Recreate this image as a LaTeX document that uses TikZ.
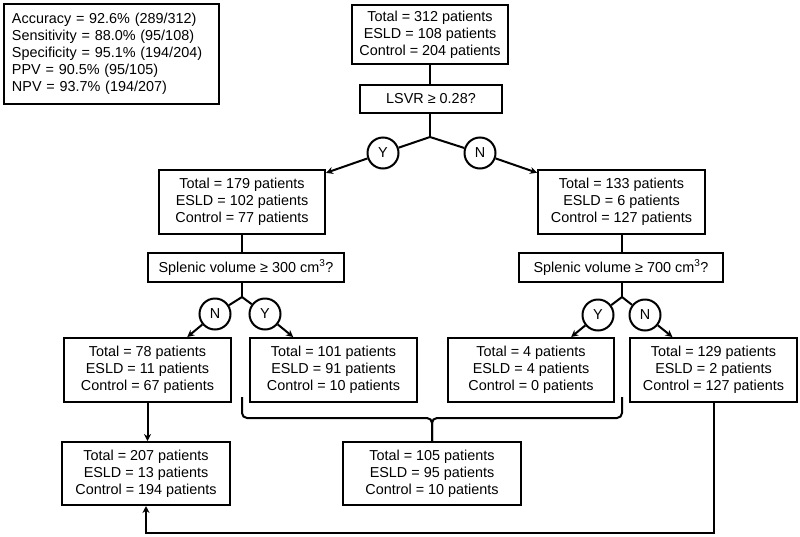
\documentclass[tikz,border=0pt]{standalone}
\usepackage{fontspec}
\setmainfont{Liberation Sans}
\usetikzlibrary{arrows.meta,calc}
\begin{document}
\begin{tikzpicture}[x=1pt,y=-1pt,
  font=\fontsize{14.4}{17}\selectfont,
  box/.style={draw,line width=2pt,align=center,inner sep=0pt,minimum height=64pt},
  qbox/.style={draw,line width=2pt,align=center,inner sep=0pt,minimum height=29pt},
  yn/.style={draw,circle,line width=2pt,minimum size=31pt,inner sep=0pt},
  ln/.style={line width=2pt},
  arr/.style={line width=2pt,-{Stealth[length=7pt,width=7pt]}}]
\useasboundingbox (0,0) rectangle (800,536);
\node[draw,line width=2pt,align=left,text width=199pt,anchor=north west,inner xsep=8pt,inner ysep=0pt,minimum height=100pt] (stats) at (3,3)
 {Accuracy = 92.6\% (289/312)\\Sensitivity = 88.0\% (95/108)\\Specificity = 95.1\% (194/204)\\PPV = 90.5\% (95/105)\\NPV = 93.7\% (194/207)};
\node[box,minimum width=156pt,minimum height=59pt] (top) at (430,34.5) {Total = 312 patients\\ESLD = 108 patients\\Control = 204 patients};
\node[qbox,minimum width=142pt,minimum height=28pt] (lsvr) at (431,99) {LSVR ≥ 0.28?};
\coordinate (j1) at (430,137);
\node[yn] (y1) at (383,153) {Y};
\node[yn] (n1) at (480,153) {N};
\node[box,minimum width=166pt] (b179) at (242,202) {Total = 179 patients\\ESLD = 102 patients\\Control = 77 patients};
\node[box,minimum width=167pt] (b133) at (621.5,202) {Total = 133 patients\\ESLD = 6 patients\\Control = 127 patients};
\node[qbox,minimum width=196pt] (s300) at (246,267.5) {Splenic volume ≥ 300 cm\textsuperscript{3}?};
\node[qbox,minimum width=204pt] (s700) at (621,267.5) {Splenic volume ≥ 700 cm\textsuperscript{3}?};
\coordinate (j2) at (242,297);
\coordinate (j3) at (622,297);
\node[yn] (n2) at (215,314) {N};
\node[yn] (y2) at (265,314) {Y};
\node[yn] (y3) at (598,315) {Y};
\node[yn] (n3) at (645,315) {N};
\node[box,minimum width=167pt] (b78) at (147.5,370) {Total = 78 patients\\ESLD = 11 patients\\Control = 67 patients};
\node[box,minimum width=167pt] (b101) at (333.5,370) {Total = 101 patients\\ESLD = 91 patients\\Control = 10 patients};
\node[box,minimum width=166pt] (b4) at (531,370) {Total = 4 patients\\ESLD = 4 patients\\Control = 0 patients};
\node[box,minimum width=167pt] (b129) at (713.5,370) {Total = 129 patients\\ESLD = 2 patients\\Control = 127 patients};
\node[box,minimum width=168pt,minimum height=63pt] (b207) at (146,473.5) {Total = 207 patients\\ESLD = 13 patients\\Control = 194 patients};
\node[box,minimum width=178pt,minimum height=63pt] (b105) at (432,473.5) {Total = 105 patients\\ESLD = 95 patients\\Control = 10 patients};
% connectors
\draw[ln] (top.south -| j1) -- (lsvr.north -| j1);
\draw[ln] (lsvr.south -| j1) -- (j1);
\draw[ln] (j1) -- (y1);
\draw[ln] (j1) -- (n1);
\draw[arr] (y1) -- (b179);
\draw[arr] (n1) -- (b133);
\draw[ln] (b179.south) -- (b179.south |- s300.north);
\draw[ln] (b133.south) -- (b133.south |- s700.north);
\draw[ln] (s300.south -| j2) -- (j2);
\draw[ln] (s700.south -| j3) -- (j3);
\draw[ln] (j2) -- (n2);
\draw[ln] (j2) -- (y2);
\draw[ln] (j3) -- (y3);
\draw[ln] (j3) -- (n3);
\draw[arr] (n2) -- (b78);
\draw[arr] (y2) -- (b101);
\draw[arr] (y3) -- (b4);
\draw[arr] (n3) -- (b129);
\draw[arr] (b78.south) -- (b78.south |- b207.north);
% brace
\coordinate (bl) at (242,397);
\coordinate (br) at (622,397);
\coordinate (bm) at (432,418);
\draw[ln,rounded corners=5pt] (bl) |- (bm) -- (b105.north -| bm);
\draw[ln,rounded corners=5pt] (br) |- (bm) -- (b105.north -| bm);
% feedback
\draw[arr] (b129.south) -- ++(0,130) -| (b207.south);
\end{tikzpicture}
\end{document}
